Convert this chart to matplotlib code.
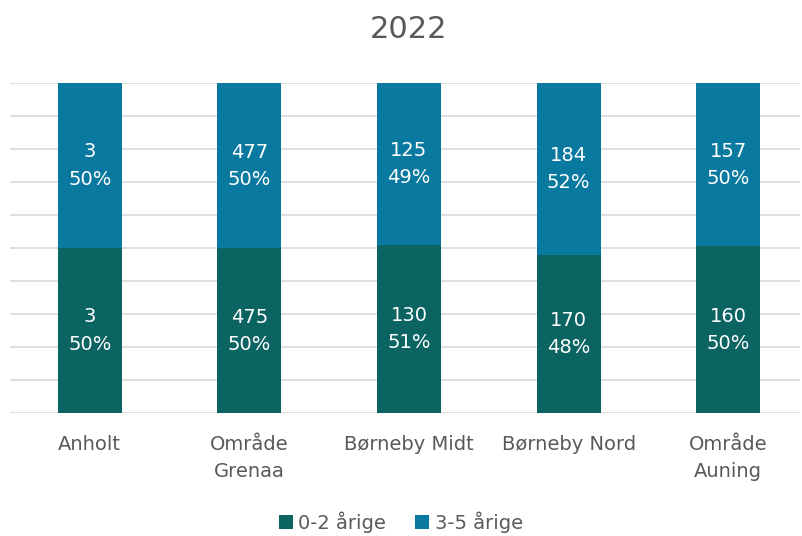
import numpy as np
import matplotlib.pyplot as plt

categories = ["Anholt", "Område\nGrenaa", "Børneby Midt", "Børneby Nord", "Område\nAuning"]
young = [3, 475, 130, 170, 160]
old = [3, 477, 125, 184, 157]
series_names = ["0-2 årige", "3-5 årige"]

young = np.array(young, dtype=float)
old = np.array(old, dtype=float)
total = young + old
young_pct = young / total * 100
old_pct = old / total * 100

c_young = "#0B6362"
c_old = "#0A79A0"
grey = "#595959"

fig = plt.figure(figsize=(8.02, 5.36), dpi=100)
ax = fig.add_axes([10 / 802, 1 - 413 / 536, 790 / 802, 330 / 536])

x = np.arange(len(categories))
ax.bar(x, young_pct, width=0.40, color=c_young, label=series_names[0], zorder=3)
ax.bar(x, old_pct, width=0.40, bottom=young_pct, color=c_old, label=series_names[1], zorder=3)

for i in range(len(categories)):
    ax.text(x[i], young_pct[i] / 2, "%d\n%d%%" % (young[i], round(young_pct[i])),
            ha="center", va="center", color="white", fontsize=14, linespacing=1.55, zorder=4)
    ax.text(x[i], young_pct[i] + old_pct[i] / 2, "%d\n%d%%" % (old[i], round(old_pct[i])),
            ha="center", va="center", color="white", fontsize=14, linespacing=1.55, zorder=4)

ax.set_xlim(-0.5, 4.45)
ax.set_ylim(0, 100)
ax.set_yticks(np.arange(0, 101, 10))
ax.yaxis.grid(True, color="#D9D9D9", linewidth=1.2, zorder=0)
ax.set_yticklabels([])
ax.tick_params(axis="y", length=0)
ax.set_xticks(x)
ax.set_xticklabels(categories, fontsize=14, color=grey, linespacing=1.5)
ax.tick_params(axis="x", length=0, pad=16)
for s in ax.spines.values():
    s.set_visible(False)

fig.text(0.509, 1 - 30 / 536, "2022", ha="center", va="center", fontsize=22, color=grey)

fig.legend(loc="center", bbox_to_anchor=(0.5, 1 - 522 / 536), ncol=2, frameon=False,
           fontsize=14, labelcolor=grey, handlelength=0.7, handleheight=0.7,
           handletextpad=0.3, columnspacing=1.5)

fig.savefig("out.png", dpi=100)
